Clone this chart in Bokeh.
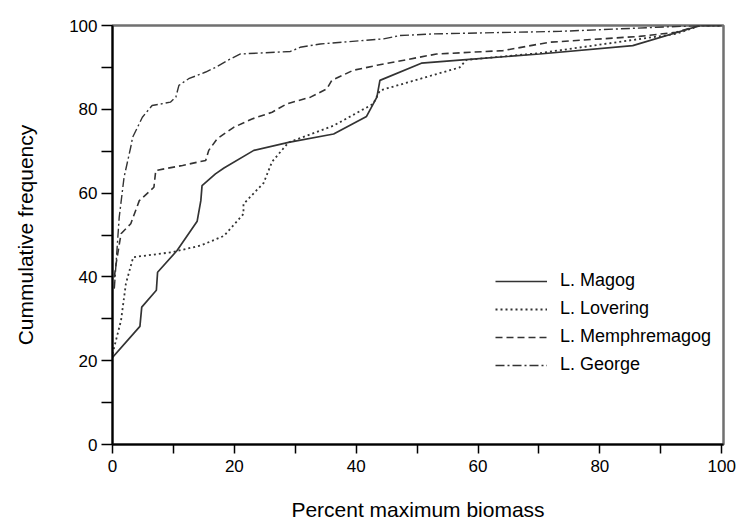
from bokeh.plotting import figure
from bokeh.models import Range1d, FixedTicker, Legend, LegendItem
from bokeh.embed import file_html
from bokeh.resources import INLINE

# Percent maximum biomass (x) vs cumulative frequency (y)
magog_x = [0, 4.5, 4.8, 7.2, 7.4, 10.6, 13.9, 14.5, 14.7, 16.9, 18.3, 23.2, 28.9, 36.3, 41.7, 43.4, 43.9, 50.7, 57.5, 70.1, 85.4, 96.5, 100]
magog_y = [20.8, 28.2, 32.8, 36.8, 41.1, 46.3, 53.3, 58.2, 61.8, 64.6, 66.0, 70.2, 72.1, 74.1, 78.3, 82.9, 86.9, 91.0, 91.8, 93.2, 95.2, 100, 100]

lovering_x = [0, 1.4, 2.2, 3.4, 9.8, 14.5, 18.3, 21.5, 21.5, 24.8, 26.2, 28.9, 36.3, 42.8, 43.9, 57.0, 58.1, 70.1, 92.5, 96.5, 100]
lovering_y = [21.6, 29.6, 38.4, 44.7, 45.9, 47.5, 49.8, 55.0, 57.4, 62.4, 67.5, 72.1, 76.1, 81.3, 84.5, 90.0, 91.8, 93.4, 98.0, 100, 100]

memph_x = [0.3, 0.5, 1.4, 3.0, 4.4, 6.8, 7.1, 11.5, 15.3, 15.8, 17.2, 19.9, 22.9, 26.2, 28.6, 32.5, 35.2, 36.0, 39.5, 43.4, 53.2, 64.1, 71.7, 86.5, 92.5, 96.5, 100]
memph_y = [39.9, 42.3, 50.3, 52.7, 58.2, 61.4, 65.4, 66.6, 67.8, 70.2, 73.0, 75.7, 77.7, 79.3, 81.3, 82.9, 84.9, 86.9, 89.3, 90.5, 93.2, 94.0, 96.0, 97.4, 98.4, 100, 100]

george_x = [0.3, 1.1, 1.9, 3.0, 3.3, 4.9, 6.5, 9.5, 10.4, 10.9, 12.5, 15.3, 16.9, 18.8, 21.0, 29.2, 30.8, 34.1, 44.5, 47.2, 52.6, 73.4, 96.5, 100]
george_y = [37.2, 54.2, 63.8, 71.0, 73.3, 78.1, 80.9, 81.7, 82.9, 85.7, 87.3, 88.9, 90.0, 91.6, 93.2, 93.8, 94.8, 95.6, 96.8, 97.6, 98.0, 98.6, 100, 100]

series_names = ["L. Magog", "L. Lovering", "L. Memphremagog", "L. George"]

x_major = [0, 20, 40, 60, 80, 100]
x_minor = [10, 30, 50, 70, 90]
y_major = [0, 20, 40, 60, 80, 100]
y_minor = [10, 30, 50, 70, 90]

FONT = "Liberation Sans"

p = figure(width=736, height=524, output_backend="svg", toolbar_location=None,
           x_range=Range1d(0, 100.3), y_range=Range1d(0, 100),
           min_border_left=112, min_border_right=13, min_border_top=25, min_border_bottom=80)

p.background_fill_color = "white"
p.border_fill_color = "white"
p.grid.visible = False
p.outline_line_color = "#707070"
p.outline_line_width = 2.5

for ax in (p.xaxis, p.yaxis):
    ax.axis_line_color = "black"
    ax.axis_line_width = 2
    ax.major_tick_line_color = "black"
    ax.minor_tick_line_color = "black"
    ax.major_tick_line_width = 1.5
    ax.minor_tick_line_width = 1.5
    ax.major_tick_in = 0
    ax.minor_tick_in = 0
    ax.major_label_text_font = FONT
    ax.major_label_text_font_size = "17px"
    ax.major_label_text_color = "black"
    ax.axis_label_text_font = FONT
    ax.axis_label_text_font_size = "21px"
    ax.axis_label_text_font_style = "normal"
    ax.axis_label_text_color = "black"

p.xaxis.ticker = FixedTicker(ticks=x_major, minor_ticks=x_minor)
p.yaxis.ticker = FixedTicker(ticks=y_major, minor_ticks=y_minor)
p.xaxis.major_tick_out = 9
p.xaxis.minor_tick_out = 9
p.yaxis.major_tick_out = 11
p.yaxis.minor_tick_out = 11
p.xaxis.major_label_standoff = 6
p.yaxis.major_label_standoff = 4
p.xaxis.axis_label = "Percent maximum biomass"
p.yaxis.axis_label = "Cummulative frequency"
p.xaxis.axis_label_standoff = 23
p.yaxis.axis_label_standoff = 29

color = "#333333"
r1 = p.line(magog_x, magog_y, line_color=color, line_width=1.7)
r2 = p.line(lovering_x, lovering_y, line_color=color, line_width=1.8, line_dash="2 3")
r3 = p.line(memph_x, memph_y, line_color=color, line_width=1.6, line_dash="7 4")
r4 = p.line(george_x, george_y, line_color=color, line_width=1.4, line_dash="9 3 2 3")

legend = Legend(items=[LegendItem(label=series_names[0], renderers=[r1]),
                       LegendItem(label=series_names[1], renderers=[r2]),
                       LegendItem(label=series_names[2], renderers=[r3]),
                       LegendItem(label=series_names[3], renderers=[r4])],
                location=(383, 69))
legend.border_line_color = None
legend.background_fill_alpha = 0
legend.padding = 0
legend.margin = 0
legend.spacing = 7
legend.glyph_width = 52
legend.glyph_height = 20
legend.label_height = 20
legend.label_standoff = 13
legend.label_text_font = FONT
legend.label_text_font_size = "18px"
legend.label_text_color = "black"
p.add_layout(legend)

open("out.html", "w").write(file_html(p, INLINE))
